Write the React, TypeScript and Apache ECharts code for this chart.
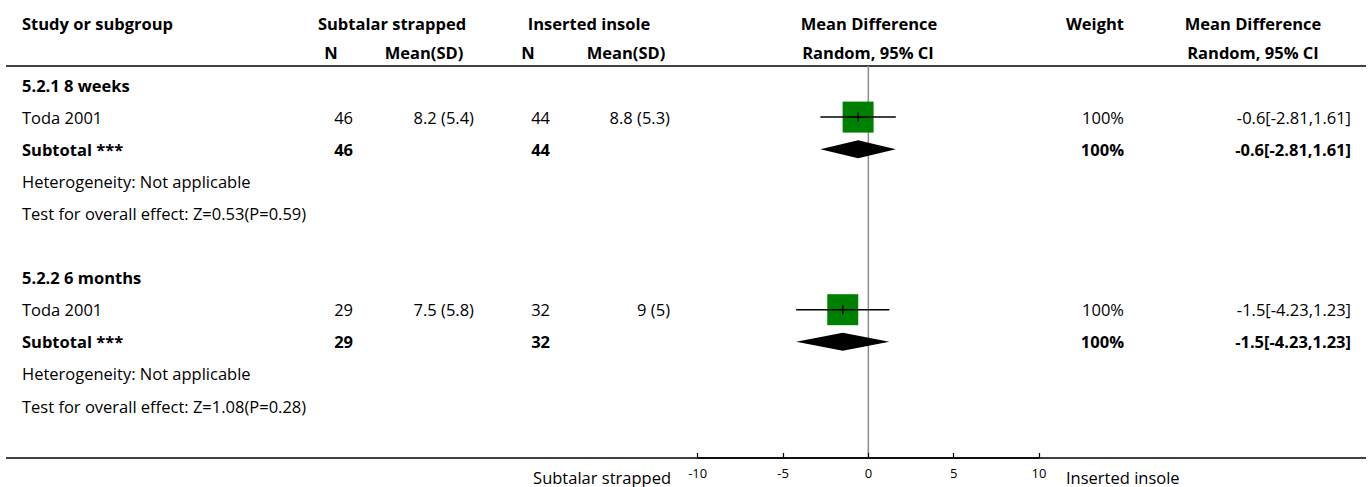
import React, { useEffect, useRef } from "react";
import * as echarts from "echarts";

// Forest plot: subtalar strapped vs inserted insole, mean difference (random effects)
const subgroupTitles = ["5.2.1 8 weeks", "5.2.2 6 months"];
const studyNames = ["Toda 2001", "Toda 2001"];
const strappedN = [46, 29];
const strappedMeanSD = ["8.2 (5.4)", "7.5 (5.8)"];
const insoleN = [44, 32];
const insoleMeanSD = ["8.8 (5.3)", "9 (5)"];
const meanDiff = [-0.6, -1.5];
const ciLow = [-2.81, -4.23];
const ciHigh = [1.61, 1.23];
const weightPct = [100, 100];
const heterogeneityText = ["Heterogeneity: Not applicable", "Heterogeneity: Not applicable"];
const overallEffectText = ["Test for overall effect: Z=0.53(P=0.59)", "Test for overall effect: Z=1.08(P=0.28)"];
const xTicks = [-10, -5, 0, 5, 10];
const leftAxisLabel = "Subtalar strapped";
const rightAxisLabel = "Inserted insole";

const FONT_FAMILY = '"Open Sans", "Noto Sans", sans-serif';
const FS = 16.5;
const ROW_START = 85;
const ROW_PITCH = 32.1;
const GRID_TOP = 66;
const GRID_BOTTOM = 458;
const ROWS_PER_GROUP = 6;

export default function App() {
  const ref = useRef<HTMLDivElement>(null);

  useEffect(() => {
    if (!ref.current) return;
    const chart = echarts.init(ref.current, undefined, { renderer: "svg" });

    const yMin = (GRID_TOP - ROW_START) / ROW_PITCH;
    const yMax = (GRID_BOTTOM - ROW_START) / ROW_PITCH;

    // [mean, row, low, high, weight, kind] kind 0 = study, 1 = subtotal
    const markData: number[][] = [];
    meanDiff.forEach((m, g) => {
      const base = g * ROWS_PER_GROUP;
      markData.push([m, base + 1, ciLow[g], ciHigh[g], weightPct[g], 0]);
      markData.push([m, base + 2, ciLow[g], ciHigh[g], weightPct[g], 1]);
    });

    chart.setOption({
      animation: false,
      backgroundColor: "#fff",
      grid: { left: 697.7, width: 341.3, top: GRID_TOP, height: GRID_BOTTOM - GRID_TOP },
      xAxis: {
        type: "value",
        position: "bottom",
        min: -10,
        max: 10,
        interval: 5,
        z: 5,
        axisLine: { show: true, onZero: false, lineStyle: { color: "#000", width: 1.5 } },
        axisTick: { show: true, inside: true, length: 5, lineStyle: { color: "#000", width: 1.2 } },
        axisLabel: {
          show: true,
          color: "#000",
          fontSize: 13,
          fontFamily: FONT_FAMILY,
          margin: 8,
          formatter: (v: number) => (xTicks.includes(v) ? String(v) : ""),
        },
        splitLine: { show: false },
      },
      yAxis: { type: "value", inverse: true, min: yMin, max: yMax, show: false },
      series: [
        {
          type: "line",
          z: 1,
          silent: true,
          symbol: "none",
          data: [
            [0, yMin],
            [0, yMax],
          ],
          lineStyle: { color: "#8c8c8c", width: 1.5 },
        },
        {
          type: "custom",
          z: 3,
          silent: true,
          data: markData,
          renderItem: (params: any, api: any) => {
            const m = api.value(0);
            const row = api.value(1);
            const lo = api.value(2);
            const hi = api.value(3);
            const w = api.value(4);
            const kind = api.value(5);
            const [xm, y] = api.coord([m, row]);
            const xl = api.coord([lo, row])[0];
            const xh = api.coord([hi, row])[0];
            if (kind === 0) {
              const side = 31 * Math.sqrt(w / 100);
              return {
                type: "group",
                children: [
                  {
                    type: "rect",
                    shape: { x: xm - side / 2, y: y - side / 2, width: side, height: side },
                    style: { fill: "#008000" },
                  },
                  {
                    type: "line",
                    shape: { x1: xl, y1: y, x2: xh, y2: y },
                    style: { stroke: "#000", lineWidth: 1.5 },
                  },
                  {
                    type: "line",
                    shape: { x1: xm, y1: y - 4.5, x2: xm, y2: y + 4.5 },
                    style: { stroke: "#000", lineWidth: 1.5 },
                  },
                ],
              };
            }
            return {
              type: "polygon",
              shape: {
                points: [
                  [xl, y],
                  [xm, y - 9],
                  [xh, y],
                  [xm, y + 9],
                ],
              },
              style: { fill: "#000" },
            };
          },
        },
      ],
    });

    const rowY = (row: number) => chart.convertToPixel({ gridIndex: 0 }, [0, row])[1];

    const txt = (
      text: string,
      x: number,
      y: number,
      align: "left" | "right" | "center",
      bold = false,
      size = FS
    ) => ({
      type: "text",
      x,
      y,
      silent: true,
      style: {
        text,
        fill: "#000",
        font: `${bold ? "bold " : ""}${size}px ${FONT_FAMILY}`,
        textAlign: align,
        textVerticalAlign: "middle",
      },
    });

    const elements: any[] = [];
    // header
    elements.push(txt("Study or subgroup", 22, 23, "left", true));
    elements.push(txt("Subtalar strapped", 392, 23, "center", true));
    elements.push(txt("Inserted insole", 589, 23, "center", true));
    elements.push(txt("Mean Difference", 869, 23, "center", true));
    elements.push(txt("Weight", 1124, 23, "right", true));
    elements.push(txt("Mean Difference", 1253, 23, "center", true));
    elements.push(txt("N", 331, 52, "center", true));
    elements.push(txt("Mean(SD)", 424, 52, "center", true));
    elements.push(txt("N", 528, 52, "center", true));
    elements.push(txt("Mean(SD)", 626, 52, "center", true));
    elements.push(txt("Random, 95% CI", 868, 52, "center", true));
    elements.push(txt("Random, 95% CI", 1253, 52, "center", true));

    subgroupTitles.forEach((title, g) => {
      const base = g * ROWS_PER_GROUP;
      const ciLabel = `${meanDiff[g]}[${ciLow[g]},${ciHigh[g]}]`;
      const yT = rowY(base);
      const yS = rowY(base + 1);
      const yU = rowY(base + 2);
      elements.push(txt(title, 22, yT, "left", true));
      elements.push(txt(studyNames[g], 22, yS, "left"));
      elements.push(txt(String(strappedN[g]), 353, yS, "right"));
      elements.push(txt(strappedMeanSD[g], 474, yS, "right"));
      elements.push(txt(String(insoleN[g]), 550, yS, "right"));
      elements.push(txt(insoleMeanSD[g], 670, yS, "right"));
      elements.push(txt(`${weightPct[g]}%`, 1124, yS, "right"));
      elements.push(txt(ciLabel, 1351, yS, "right"));
      elements.push(txt("Subtotal ***", 22, yU, "left", true));
      elements.push(txt(String(strappedN[g]), 353, yU, "right", true));
      elements.push(txt(String(insoleN[g]), 550, yU, "right", true));
      elements.push(txt(`${weightPct[g]}%`, 1124, yU, "right", true));
      elements.push(txt(ciLabel, 1351, yU, "right", true));
      elements.push(txt(heterogeneityText[g], 22, rowY(base + 3), "left"));
      elements.push(txt(overallEffectText[g], 22, rowY(base + 4), "left"));
    });

    // header rule and bottom rule spanning the full table width
    elements.push({
      type: "line",
      silent: true,
      z: -1,
      shape: { x1: 6, y1: GRID_TOP, x2: 1366, y2: GRID_TOP },
      style: { stroke: "#000", lineWidth: 1.5 },
    });
    elements.push({
      type: "line",
      silent: true,
      z: -1,
      shape: { x1: 6, y1: GRID_BOTTOM, x2: 1366, y2: GRID_BOTTOM },
      style: { stroke: "#000", lineWidth: 1.5 },
    });
    elements.push(txt(leftAxisLabel, 671, 477, "right"));
    elements.push(txt(rightAxisLabel, 1066, 477, "left"));

    chart.setOption({ graphic: { elements } });

    return () => chart.dispose();
  }, []);

  return (
    <div
      ref={ref}
      style={{ position: "fixed", left: 0, top: 0, width: 1370, height: 487, background: "#fff" }}
    />
  );
}
